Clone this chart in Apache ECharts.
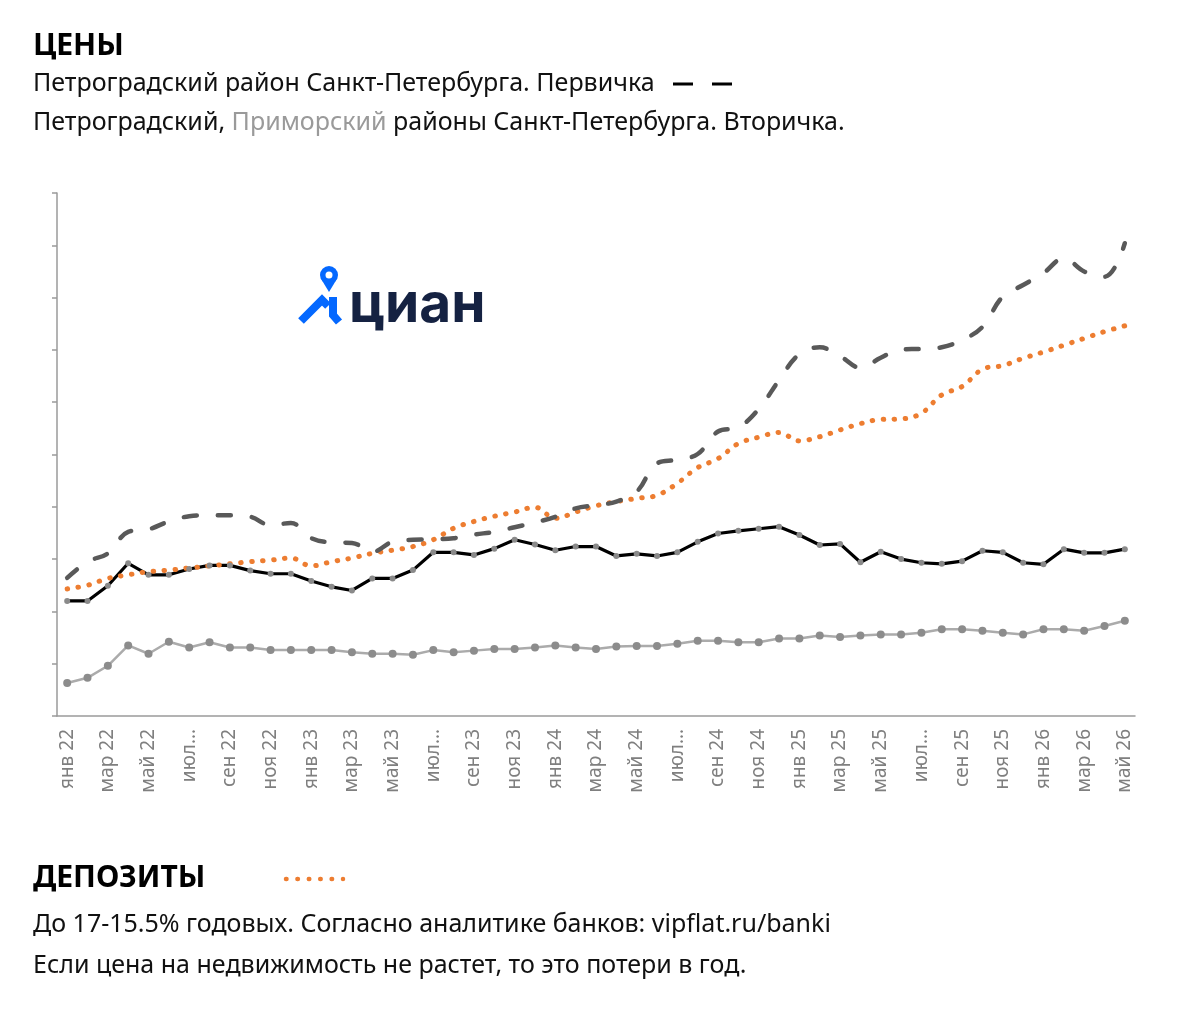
<!DOCTYPE html>
<html>
<head>
<meta charset="utf-8">
<script src="https://cdn.jsdelivr.net/npm/echarts@6/dist/echarts.min.js"></script>
<style>
  html, body { margin: 0; padding: 0; background: #fff; }
  #chart { width: 1178px; height: 1012px; }
</style>
</head>
<body>
<div id="chart"></div>
<script>
// месяцы по оси X
const months = [
  'янв 22', 'фев 22', 'мар 22', 'апр 22', 'май 22', 'июн 22', 'июл 22', 'авг 22', 'сен 22', 'окт 22', 'ноя 22', 'дек 22',
  'янв 23', 'фев 23', 'мар 23', 'апр 23', 'май 23', 'июн 23', 'июл 23', 'авг 23', 'сен 23', 'окт 23', 'ноя 23', 'дек 23',
  'янв 24', 'фев 24', 'мар 24', 'апр 24', 'май 24', 'июн 24', 'июл 24', 'авг 24', 'сен 24', 'окт 24', 'ноя 24', 'дек 24',
  'янв 25', 'фев 25', 'мар 25', 'апр 25', 'май 25', 'июн 25', 'июл 25', 'авг 25', 'сен 25', 'окт 25', 'ноя 25', 'дек 25',
  'янв 26', 'фев 26', 'мар 26', 'апр 26', 'май 26'
]

// Петроградский район, первичка (пунктир)
const petroPrimary = [
  2.64, 2.95, 3.11, 3.52, 3.57, 3.72, 3.82, 3.84, 3.84, 3.81, 3.65, 3.69,
  3.40, 3.32, 3.31, 3.14, 3.33, 3.37, 3.38, 3.40, 3.47, 3.52, 3.61, 3.70,
  3.81, 3.97, 4.03, 4.10, 4.29, 4.83, 4.90, 5.01, 5.44, 5.52, 5.87, 6.42,
  6.92, 7.05, 6.88, 6.66, 6.85, 7.01, 7.02, 7.05, 7.19, 7.44, 8.02, 8.24,
  8.47, 8.75, 8.50, 8.40, 9.04
]

// депозиты (точки)
const deposits = [
  2.43, 2.50, 2.63, 2.70, 2.76, 2.79, 2.83, 2.87, 2.91, 2.95, 2.98, 3.02,
  2.87, 2.95, 3.02, 3.11, 3.17, 3.24, 3.37, 3.59, 3.72, 3.82, 3.90, 3.99,
  3.78, 3.90, 4.02, 4.10, 4.16, 4.22, 4.45, 4.75, 4.92, 5.21, 5.33, 5.42,
  5.26, 5.34, 5.47, 5.59, 5.67, 5.68, 5.79, 6.14, 6.30, 6.63, 6.70, 6.84,
  6.96, 7.09, 7.22, 7.35, 7.46
]

// Петроградский район, вторичка (чёрная)
const petroSecondary = [
  2.20, 2.20, 2.49, 2.92, 2.70, 2.70, 2.81, 2.88, 2.88, 2.78, 2.72, 2.72,
  2.58, 2.47, 2.40, 2.63, 2.63, 2.79, 3.13, 3.13, 3.08, 3.20, 3.37, 3.28,
  3.17, 3.24, 3.24, 3.06, 3.10, 3.06, 3.13, 3.33, 3.49, 3.54, 3.58, 3.62,
  3.46, 3.27, 3.29, 2.94, 3.14, 3.00, 2.93, 2.91, 2.96, 3.16, 3.13, 2.93,
  2.90, 3.19, 3.12, 3.12, 3.19
]

// Приморский район, вторичка (серая)
const primorskySecondary = [
  0.63, 0.73, 0.96, 1.35, 1.19, 1.42, 1.31, 1.41, 1.31, 1.31, 1.26, 1.26,
  1.26, 1.26, 1.22, 1.19, 1.19, 1.17, 1.26, 1.22, 1.25, 1.28, 1.28, 1.31,
  1.35, 1.31, 1.28, 1.33, 1.34, 1.34, 1.38, 1.44, 1.44, 1.41, 1.41, 1.48,
  1.48, 1.54, 1.51, 1.54, 1.56, 1.56, 1.59, 1.66, 1.66, 1.63, 1.59, 1.56,
  1.66, 1.66, 1.63, 1.72, 1.82
]

const chart = echarts.init(document.getElementById('chart'))

const textFont = '"Noto Sans", sans-serif'
const blue = '#0468ff'

const option = {
  backgroundColor: '#fff',
  animation: false,
  grid: { left: 57, right: 43, top: 193, bottom: 296 },
  xAxis: {
    type: 'category',
    data: months,
    boundaryGap: true,
    axisLine: { lineStyle: { color: '#9a9a9a', width: 1.5 } },
    axisTick: { show: false },
    axisLabel: {
      interval: 1,
      rotate: 90,
      margin: 13,
      color: '#7f7f7f',
      fontSize: 19,
      fontFamily: textFont,
      // июль в оригинале обрезан
      formatter: v => v.startsWith('июл') ? 'июл…' : v
    }
  },
  yAxis: {
    type: 'value',
    min: 0,
    max: 10,
    interval: 1,
    axisLine: { show: true, lineStyle: { color: '#9a9a9a', width: 1.5 } },
    axisTick: { show: true, length: 5, lineStyle: { color: '#9a9a9a', width: 1.5 } },
    axisLabel: { show: false },
    splitLine: { show: false }
  },
  series: [
    {
      name: 'Приморский вторичка',
      type: 'line',
      data: primorskySecondary,
      symbol: 'circle',
      symbolSize: 8,
      lineStyle: { color: '#ababab', width: 2.5 },
      itemStyle: { color: '#8c8c8c' }
    },
    {
      name: 'Петроградский вторичка',
      type: 'line',
      data: petroSecondary,
      symbol: 'circle',
      symbolSize: 6,
      lineStyle: { color: '#000', width: 3.2 },
      itemStyle: { color: '#8a8a8a' }
    },
    {
      name: 'Депозиты',
      type: 'line',
      data: deposits,
      smooth: 0.4,
      showSymbol: false,
      lineStyle: { color: '#ed7d31', width: 5, type: [0.5, 10.5], cap: 'round' }
    },
    {
      name: 'Первичка',
      type: 'line',
      data: petroPrimary,
      smooth: 0.4,
      showSymbol: false,
      lineStyle: { color: '#595959', width: 4.5, type: [13, 21], cap: 'round' }
    }
  ],
  graphic: [
    // заголовки сверху
    {
      type: 'text', left: 33, top: 31,
      style: { text: 'ЦЕНЫ', font: 'bold 30px ' + textFont, fill: '#000' }
    },
    {
      type: 'text', left: 33, top: 71,
      style: { text: 'Петроградский район Санкт-Петербурга. Первичка', font: '25px ' + textFont, fill: '#111' }
    },
    {
      type: 'line',
      shape: { x1: 673, y1: 84, x2: 733, y2: 84 },
      style: { stroke: '#000', lineWidth: 3, lineDash: [20, 19] }
    },
    {
      type: 'text', left: 33, top: 110,
      style: {
        text: '{a|Петроградский, }{b|Приморский}{a| районы Санкт-Петербурга. Вторичка.}',
        rich: {
          a: { font: '25px ' + textFont, fill: '#111' },
          b: { font: '25px ' + textFont, fill: '#9a9a9a' }
        }
      }
    },
    // логотип циан
    {
      type: 'group',
      children: [
        { type: 'circle', shape: { cx: 329, cy: 275, r: 9 }, style: { fill: blue } },
        { type: 'polygon', shape: { points: [[320.5, 278], [337.5, 278], [329, 292]] }, style: { fill: blue } },
        { type: 'circle', shape: { cx: 329, cy: 275, r: 3.5 }, style: { fill: '#fff' } },
        {
          type: 'polyline',
          shape: { points: [[301, 321], [322, 300], [328, 306]] },
          style: { stroke: blue, lineWidth: 8, fill: null, lineJoin: 'miter' }
        },
        {
          type: 'polyline',
          shape: { points: [[333, 297], [333, 315], [339, 322]] },
          style: { stroke: blue, lineWidth: 8, fill: null, lineJoin: 'miter' }
        },
        {
          type: 'text', left: 349, top: 278,
          style: { text: 'циан', font: 'bold 55px Inter, sans-serif', fill: '#152242' }
        }
      ]
    },
    // низ: депозиты
    {
      type: 'text', left: 33, top: 863,
      style: { text: 'ДЕПОЗИТЫ', font: 'bold 30px ' + textFont, fill: '#000' }
    },
    {
      type: 'line',
      shape: { x1: 286, y1: 879, x2: 343, y2: 879 },
      style: { stroke: '#ed7d31', lineWidth: 4.5, lineDash: [0.5, 10.9], lineCap: 'round' }
    },
    {
      type: 'text', left: 33, top: 912,
      style: { text: 'До 17-15.5% годовых. Согласно аналитике банков: vipflat.ru/banki', font: '25px ' + textFont, fill: '#111' }
    },
    {
      type: 'text', left: 33, top: 953,
      style: { text: 'Если цена на недвижимость не растет, то это потери в год.', font: '25px ' + textFont, fill: '#111' }
    }
  ]
}

chart.setOption(option)
</script>
</body>
</html>
